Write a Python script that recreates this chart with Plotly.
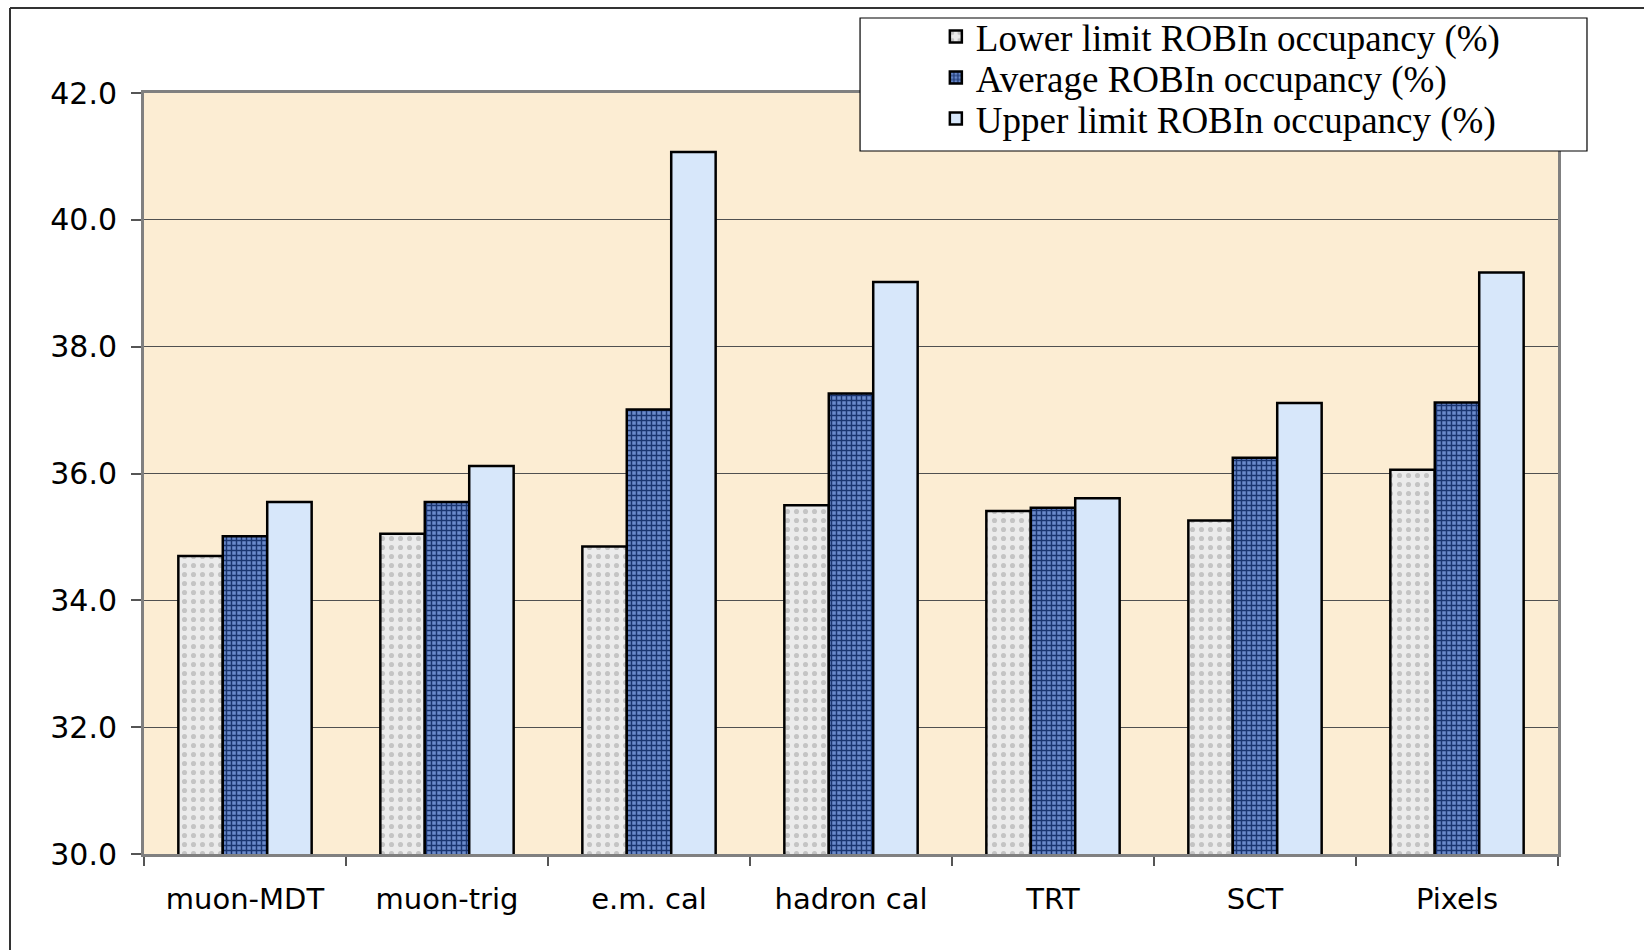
import plotly.graph_objects as go

categories = ["muon-MDT", "muon-trig", "e.m. cal", "hadron cal", "TRT", "SCT", "Pixels"]
lower_limit = [34.70, 35.05, 34.85, 35.50, 35.41, 35.26, 36.06]
average = [35.01, 35.55, 37.01, 37.26, 35.46, 36.25, 37.12]
upper_limit = [35.55, 36.12, 41.07, 39.02, 35.61, 37.11, 39.17]
series_names = ["Lower limit ROBIn occupancy (%)",
                "Average ROBIn occupancy (%)",
                "Upper limit ROBIn occupancy (%)"]
y_ticks = [30, 32, 34, 36, 38, 40, 42]

fig = go.Figure()
fig.add_trace(go.Bar(
    x=categories, y=lower_limit, name=series_names[0], legend="legend",
    marker=dict(color="#e4e4e4", line=dict(color="black", width=2.5),
                pattern=dict(shape=".", fgcolor="#c4c4c4", bgcolor="#ebebeb",
                             size=9, solidity=0.25, fillmode="replace")),
))
fig.add_trace(go.Bar(
    x=categories, y=average, name=series_names[1], legend="legend2",
    marker=dict(color="#4d6fb3", line=dict(color="black", width=2.5),
                pattern=dict(shape="+", fgcolor="#1a3570", bgcolor="#6a8acb",
                             size=5, solidity=0.5, fillmode="replace")),
))
fig.add_trace(go.Bar(
    x=categories, y=upper_limit, name=series_names[2], legend="legend3",
    marker=dict(color="#d7e7fa", line=dict(color="black", width=2.5)),
))

def px_to_paper_y(py):
    return (854 - py) / 761.0

legend_common = dict(
    x=0.560, xanchor="left", yanchor="middle",
    bgcolor="rgba(0,0,0,0)", borderwidth=0,
    font=dict(family="Liberation Serif", size=37, color="black"),
)

fig.update_layout(
    width=1644, height=950,
    margin=dict(l=144, r=86, t=93, b=96, autoexpand=False),
    paper_bgcolor="white",
    plot_bgcolor="#fcedd3",
    barmode="group", bargap=0.34, bargroupgap=0,
    font=dict(family="DejaVu Sans", color="black"),
    showlegend=True,
    legend=dict(y=px_to_paper_y(37), **legend_common),
    legend2=dict(y=px_to_paper_y(78), **legend_common),
    legend3=dict(y=px_to_paper_y(119), **legend_common),
    shapes=[
        dict(type="rect", xref="paper", yref="paper",
             x0=0.5064, x1=1.0205, y0=px_to_paper_y(151), y1=px_to_paper_y(18),
             line=dict(color="black", width=1.2), fillcolor="white", layer="above"),
        dict(type="line", xref="paper", yref="paper",
             x0=(10 - 144) / 1414, x1=(1644 - 144) / 1414,
             y0=px_to_paper_y(8), y1=px_to_paper_y(8),
             line=dict(color="#333333", width=2)),
        dict(type="line", xref="paper", yref="paper",
             x0=(10 - 144) / 1414, x1=(10 - 144) / 1414,
             y0=px_to_paper_y(8), y1=px_to_paper_y(960),
             line=dict(color="#333333", width=2)),
    ],
)

fig.update_xaxes(
    showline=True, linecolor="#808080", linewidth=3, mirror=True,
    ticks="outside", tickson="boundaries", ticklen=9, tickcolor="#555555", tickwidth=1.5,
    tickfont=dict(family="DejaVu Sans", size=29, color="black"),
    ticklabelstandoff=17,
    showgrid=False,
)
fig.update_yaxes(
    range=[30, 42], tickvals=y_ticks, tickformat=".1f",
    showline=True, linecolor="#808080", linewidth=3, mirror=True,
    ticks="outside", ticklen=10, tickcolor="#555555", tickwidth=1.5,
    tickfont=dict(family="DejaVu Sans", size=30, color="black"),
    ticklabelstandoff=8,
    showgrid=True, gridcolor="#505050", gridwidth=1,
    zeroline=False,
)

fig.write_html("out.html")
